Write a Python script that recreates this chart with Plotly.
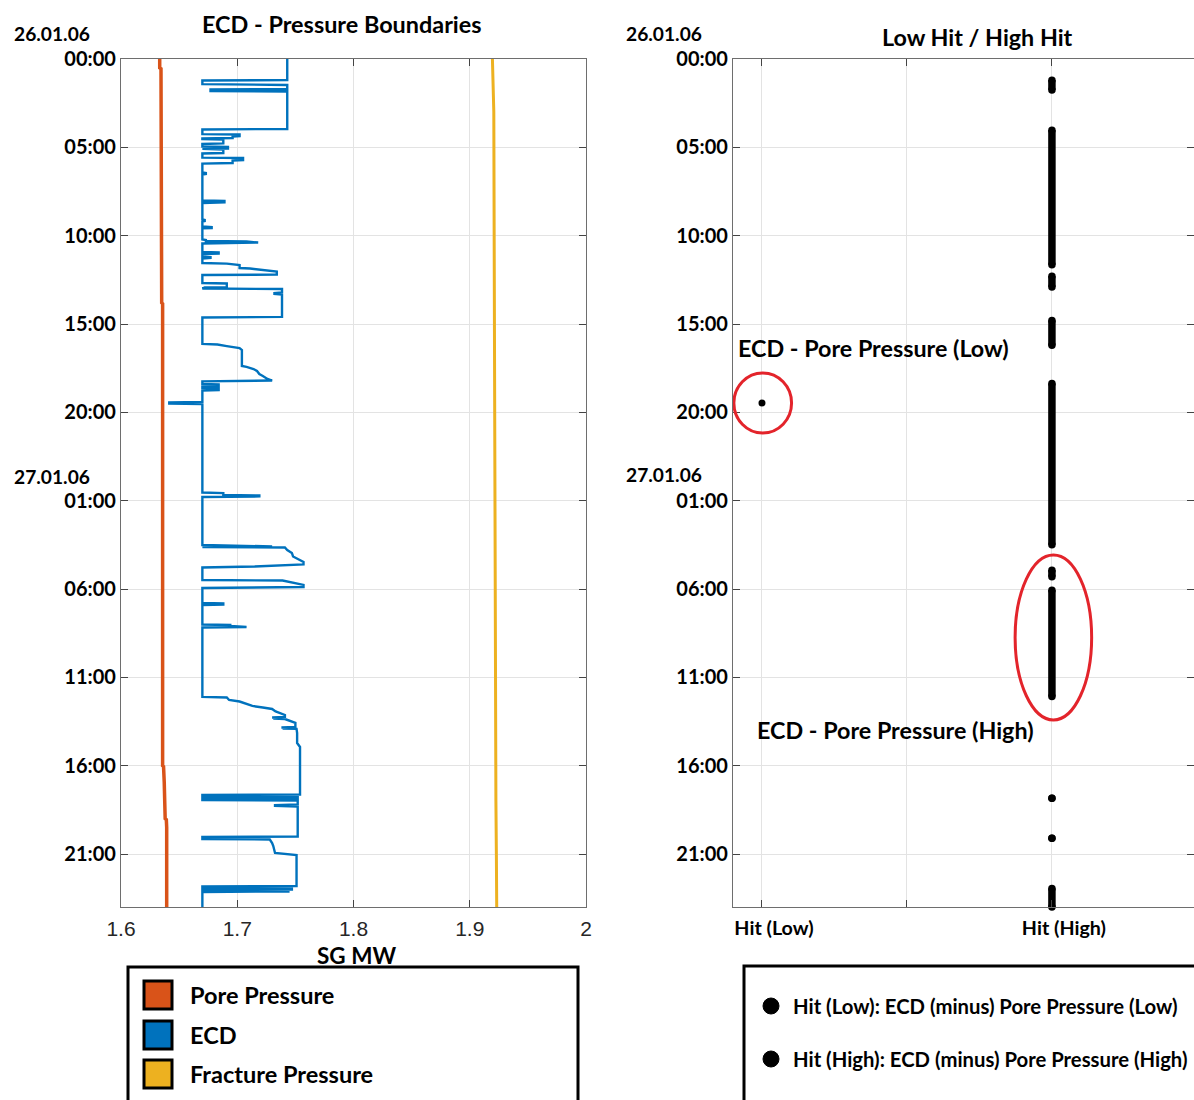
import plotly.graph_objects as go

# ---------------------------------------------------------------------------
# Data: time is in hours since 26.01.06 00:00, pressures in SG mud weight
# ---------------------------------------------------------------------------
pore_time = [0.0, 0.5, 0.55, 1.08, 1.1, 13.8, 13.85, 40.0, 40.05, 40.9, 40.95, 43.0, 43.05, 43.5, 48.0]
pore_sg = [1.6333, 1.6333, 1.6344, 1.6344, 1.6350, 1.6350, 1.6358, 1.6358, 1.6366, 1.6366,
           1.6372, 1.6380, 1.6390, 1.6393, 1.6393]

frac_time = [0.0, 1.0, 3.0, 10.0, 20.0, 30.0, 38.0, 42.0, 45.0, 48.0]
frac_sg = [1.9195, 1.9200, 1.9207, 1.9210, 1.9213, 1.9218, 1.9220, 1.9225, 1.9229, 1.9232]

ecd_time = [
    0.00, 1.19, 1.22, 1.42, 1.47, 1.70, 1.73, 1.81, 1.84, 3.96, 3.99, 4.25, 4.27, 4.36, 4.39,
    4.47, 4.50, 4.53, 4.56, 4.78, 4.81, 4.95, 4.98, 5.07, 5.09, 5.12, 5.32, 5.35, 5.58, 5.60,
    5.72, 5.75, 5.89, 5.92, 6.42, 6.45, 6.51, 6.54, 8.01, 8.04, 8.12, 8.15, 9.08, 9.11, 9.17,
    9.20, 9.48, 9.51, 9.57, 9.59, 10.22, 10.25, 10.30, 10.33, 10.39, 10.44, 10.92, 10.95, 11.01,
    11.04, 11.18, 11.21, 11.26, 11.29, 11.55, 11.58, 11.66, 11.83, 11.86, 11.94, 12.03, 12.20,
    12.23, 12.68, 12.71, 12.91, 12.93, 12.99, 13.02, 13.22, 13.25, 13.30, 13.33, 14.60, 14.63,
    16.13, 16.16, 16.25, 16.36, 16.47, 17.38, 17.43, 17.55, 17.66, 17.83, 17.94, 18.11, 18.20,
    18.25, 18.40, 18.42, 18.51, 18.54, 18.62, 18.65, 18.74, 18.76, 19.41, 19.44, 19.50, 19.53,
    24.54, 24.57, 24.68, 24.71, 24.76, 24.79, 27.51, 27.54, 27.59, 27.62, 27.65, 27.79, 27.96,
    28.16, 28.30, 28.47, 28.61, 28.67, 28.73, 28.78, 29.49, 29.52, 29.60, 29.69, 29.77, 29.89,
    29.94, 30.79, 30.82, 30.88, 30.91, 32.01, 32.04, 32.09, 32.12, 32.15, 32.18, 36.11, 36.14,
    36.28, 36.37, 36.45, 36.62, 36.71, 36.79, 36.93, 37.13, 37.24, 37.27, 37.30, 37.33, 37.36,
    37.58, 37.81, 37.84, 37.87, 37.90, 37.92, 38.15, 38.72, 38.83, 38.94, 41.63, 41.66, 41.75,
    41.77, 41.83, 41.86, 41.94, 41.97, 42.20, 42.23, 42.28, 42.31, 44.01, 44.04, 44.15, 44.18,
    44.38, 44.55, 44.94, 45.06, 46.81, 46.84, 46.92, 46.95, 47.01, 47.04, 47.09, 47.12, 47.15,
    48.00,
]
ecd_sg = [
    1.743, 1.743, 1.670, 1.670, 1.743, 1.743, 1.677, 1.677, 1.743, 1.743, 1.670, 1.670, 1.702, 1.702, 1.696,
    1.696, 1.670, 1.670, 1.688, 1.688, 1.670, 1.670, 1.692, 1.692, 1.670, 1.688, 1.688, 1.670, 1.670, 1.705,
    1.705, 1.696, 1.696, 1.670, 1.670, 1.673, 1.673, 1.670, 1.670, 1.689, 1.689, 1.670, 1.670, 1.672, 1.672,
    1.670, 1.670, 1.678, 1.678, 1.670, 1.670, 1.673, 1.673, 1.708, 1.718, 1.670, 1.670, 1.684, 1.684,
    1.670, 1.670, 1.677, 1.677, 1.670, 1.670, 1.691, 1.702, 1.702, 1.711, 1.722, 1.734, 1.734,
    1.670, 1.670, 1.691, 1.691, 1.672, 1.670, 1.7385, 1.7385, 1.732, 1.732, 1.7385, 1.7385, 1.670,
    1.670, 1.683, 1.691, 1.702, 1.704, 1.704, 1.708, 1.714, 1.717, 1.719, 1.722, 1.726, 1.730,
    1.670, 1.670, 1.684, 1.684, 1.670, 1.670, 1.684, 1.684, 1.670, 1.670, 1.6415, 1.6415, 1.670,
    1.670, 1.688, 1.688, 1.719, 1.719, 1.670, 1.670, 1.702, 1.730, 1.670, 1.741, 1.743, 1.747,
    1.748, 1.752, 1.757, 1.757, 1.741, 1.715, 1.670, 1.670, 1.739, 1.745, 1.751, 1.757, 1.757,
    1.670, 1.670, 1.688, 1.688, 1.670, 1.670, 1.694, 1.694, 1.708, 1.708, 1.670, 1.670, 1.691,
    1.693, 1.702, 1.705, 1.713, 1.722, 1.730, 1.733, 1.741, 1.741, 1.730, 1.741, 1.731, 1.741,
    1.750, 1.750, 1.738, 1.751, 1.739, 1.751, 1.7515, 1.7515, 1.753, 1.754, 1.754, 1.670, 1.670,
    1.752, 1.752, 1.670, 1.670, 1.752, 1.752, 1.7325, 1.7325, 1.752, 1.752, 1.670, 1.670, 1.728,
    1.730, 1.731, 1.7325, 1.751, 1.751, 1.670, 1.670, 1.747, 1.747, 1.670, 1.670, 1.745, 1.670,
    1.670,
]

# Hit events (hours since 26.01.06 00:00)
hit_low_time = [19.47]
hit_high_start = [1.20, 4.03, 12.30, 14.80, 18.37, 28.94, 30.07, 41.85, 44.11, 46.95]
hit_high_end = [1.75, 11.65, 12.90, 16.20, 27.50, 29.30, 36.08, 41.85, 44.11, 48.00]

hit_categories = [1, 1.5, 2]
hit_labels = ["<b>Hit (Low)</b>", "", "<b>Hit (High)</b>"]

time_ticks = [0, 5, 10, 15, 20, 25, 30, 35, 40, 45]
time_labels = ["00:00", "05:00", "10:00", "15:00", "20:00", "01:00", "06:00", "11:00", "16:00", "21:00"]
date_labels = ["26.01.06", "27.01.06"]

sg_ticks = [1.6, 1.7, 1.8, 1.9, 2.0]
sg_labels = ["1.6", "1.7", "1.8", "1.9", "2"]

series_names = ["Pore Pressure", "ECD", "Fracture Pressure"]
series_colors = ["#d95319", "#0072bd", "#edb120"]
hit_legend = ["Hit (Low): ECD (minus) Pore Pressure (Low)",
              "Hit (High): ECD (minus) Pore Pressure (High)"]

# ---------------------------------------------------------------------------
W, H = 1194, 1100
FONT = "Lato"


def fx(x):
    return x / W


def fy(y):
    return 1 - y / H


fig = go.Figure()

fig.add_trace(go.Scatter(x=pore_sg, y=pore_time, mode="lines", name=series_names[0],
                         line=dict(color=series_colors[0], width=3.5), showlegend=False,
                         xaxis="x", yaxis="y"))
fig.add_trace(go.Scatter(x=ecd_sg, y=ecd_time, mode="lines", name=series_names[1],
                         line=dict(color=series_colors[1], width=2.4), showlegend=False,
                         xaxis="x", yaxis="y"))
fig.add_trace(go.Scatter(x=frac_sg, y=frac_time, mode="lines", name=series_names[2],
                         line=dict(color=series_colors[2], width=3), showlegend=False,
                         xaxis="x", yaxis="y"))

# high hits: each run of consecutive hits drawn as a thick stroke with round ends
hx, hy = [], []
for t0, t1 in zip(hit_high_start, hit_high_end):
    hx += [2, 2, None]
    hy += [t0, t1, None]
fig.add_trace(go.Scatter(x=hx, y=hy, mode="lines+markers", name="Hit (High)",
                         line=dict(color="black", width=7.5),
                         marker=dict(color="black", size=7.5), showlegend=False,
                         cliponaxis=False, xaxis="x2", yaxis="y2"))
fig.add_trace(go.Scatter(x=[1] * len(hit_low_time), y=hit_low_time, mode="markers",
                         name="Hit (Low)", marker=dict(color="black", size=7),
                         showlegend=False, xaxis="x2", yaxis="y2"))

axis_common = dict(showline=True, linecolor="#6e6e6e", linewidth=1.3, mirror="ticks",
                   ticks="inside", ticklen=7, tickcolor="#444444", tickwidth=1.2,
                   showgrid=True, gridcolor="#e3e3e3", gridwidth=1, zeroline=False,
                   automargin=False)

ytick_text = ["<b>%s</b>" % s for s in time_labels]
yaxis_common = dict(axis_common, range=[48, 0], tickmode="array", tickvals=time_ticks,
                    ticktext=ytick_text, tickfont=dict(family=FONT, size=20, color="black"))

fig.update_layout(
    width=W, height=H, margin=dict(l=0, r=0, t=0, b=0, pad=0, autoexpand=False),
    paper_bgcolor="white", plot_bgcolor="white",
    font=dict(family=FONT, color="black"),
    xaxis=dict(axis_common, domain=[fx(121), fx(586)], range=[1.6, 2.0], anchor="y",
               tickmode="array", tickvals=sg_ticks, ticktext=sg_labels,
               ticklabelstandoff=3,
               tickfont=dict(family="Liberation Sans", size=21, color="#262626")),
    yaxis=dict(yaxis_common, domain=[fy(907), fy(59)], anchor="x"),
    xaxis2=dict(axis_common, domain=[fx(733), 1.0], range=[0.9, 2.49], anchor="y2",
                tickmode="array", tickvals=hit_categories, ticktext=hit_labels,
                ticklabelshift=12, ticklabelstandoff=3,
                tickfont=dict(family=FONT, size=19.7, color="black")),
    yaxis2=dict(yaxis_common, domain=[fy(907), fy(59)], anchor="x2"),
)

ann = []


def text(x, y, s, size, anchor="center", bold=True):
    ann.append(dict(x=fx(x), y=fy(y), xref="paper", yref="paper", text=("<b>%s</b>" % s) if bold else s,
                    showarrow=False, xanchor=anchor, yanchor="middle",
                    font=dict(family=FONT, size=size, color="black")))


text(342, 24, "ECD - Pressure Boundaries", 23.4)
text(977, 37, "Low Hit / High Hit", 23.3)
text(12, 34, date_labels[0], 19.2, "left")
text(12, 476, date_labels[1], 19.2, "left")
text(624, 33, date_labels[0], 19.2, "left")
text(624, 474, date_labels[1], 19.2, "left")
text(356, 955, "SG MW", 22.5)
text(736, 348, "ECD - Pore Pressure (Low)", 23.3, "left")
text(755, 730, "ECD - Pore Pressure (High)", 23.3, "left")

shapes = []
# legend box of the pressure panel
shapes.append(dict(type="rect", xref="paper", yref="paper", x0=fx(128), x1=fx(578),
                   y0=fy(1115), y1=fy(967), line=dict(color="black", width=3)))
for i, (name, col) in enumerate(zip(series_names, series_colors)):
    yc = [995, 1035, 1074][i]
    shapes.append(dict(type="rect", xref="paper", yref="paper", x0=fx(144), x1=fx(172),
                       y0=fy(yc + 14), y1=fy(yc - 14), fillcolor=col,
                       line=dict(color="black", width=3)))
    text(188, yc, name, 23.5, "left")

# legend box of the hit panel
shapes.append(dict(type="rect", xref="paper", yref="paper", x0=fx(744), x1=fx(1198),
                   y0=fy(1115), y1=fy(966), line=dict(color="black", width=3)))
for i, name in enumerate(hit_legend):
    yc = [1006, 1059][i]
    shapes.append(dict(type="circle", xref="paper", yref="paper", x0=fx(763), x1=fx(779),
                       y0=fy(yc + 8), y1=fy(yc - 8), fillcolor="black",
                       line=dict(color="black", width=1)))
    text(791, yc, name, 20.3, "left")

# red rings highlighting the hits
shapes.append(dict(type="circle", xref="x2", yref="y2", x0=0.903, x1=1.102, y0=17.77, y1=21.17,
                   line=dict(color="#e3242b", width=3)))
shapes.append(dict(type="circle", xref="x2", yref="y2", x0=1.873, x1=2.137, y0=28.07, y1=37.41,
                   line=dict(color="#e3242b", width=3)))

fig.update_layout(annotations=ann, shapes=shapes)
fig.write_html("out.html")
